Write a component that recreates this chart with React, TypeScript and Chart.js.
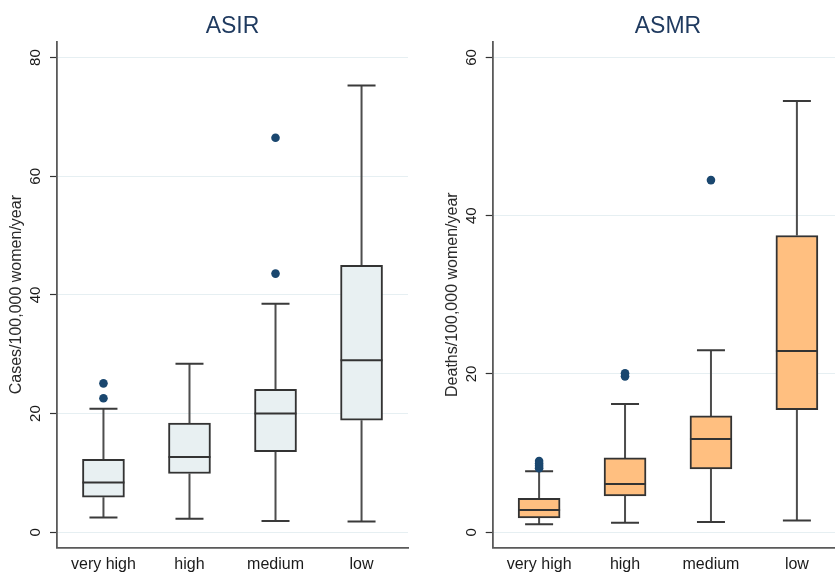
import React, { useEffect, useRef } from 'react';
import { Chart, registerables } from 'chart.js';

Chart.register(...registerables);

// ---------- data ----------
const categories = ['very high', 'high', 'medium', 'low'];
const categoryPositions = [1, 2, 3, 4];

const asirMin = [2.5, 2.3, 1.9, 1.8];
const asirQ1 = [5.9, 9.9, 13.6, 18.9];
const asirMedian = [8.4, 12.7, 20.0, 29.0];
const asirQ3 = [12.3, 18.4, 24.1, 45.0];
const asirMax = [20.8, 28.4, 38.5, 75.3];
const asirOutliers = [[25.1, 22.6], [], [43.6, 66.5], []];
const asirTicks = [0, 20, 40, 60, 80];

const asmrMin = [1.0, 1.2, 1.3, 1.5];
const asmrQ1 = [1.8, 4.6, 8.0, 15.5];
const asmrMedian = [2.8, 6.1, 11.8, 22.9];
const asmrQ3 = [4.3, 9.4, 14.7, 37.5];
const asmrMax = [7.7, 16.2, 23.0, 54.5];
const asmrOutliers = [[8.1, 8.4, 8.7, 9.0], [19.7, 20.1], [44.5], []];
const asmrTicks = [0, 20, 40, 60];

// ---------- styling ----------
const FONT = '"Liberation Sans", Arial, Helvetica, sans-serif';
const BOX_WIDTH = 42;
const CAP_HALF = 14;

interface PanelProps {
  title: string;
  yTitle: string;
  min: number[];
  q1: number[];
  median: number[];
  q3: number[];
  max: number[];
  outliers: number[][];
  ticks: number[];
  yMin: number;
  yMax: number;
  fill: string;
  width: number;
  height: number;
  left: number;
  axisWidth: number;
  padRight: number;
  yTitlePad: number;
}

function Panel(p: PanelProps) {
  const ref = useRef<HTMLCanvasElement | null>(null);
  useEffect(() => {
    if (!ref.current) return;
    const whiskerPlugin = {
      id: 'whiskers',
      beforeDatasetsDraw(chart: any) {
        const { ctx, scales } = chart;
        const xs = scales.x, ys = scales.y;
        ctx.save();
        ctx.lineWidth = 2;
        p.min.forEach((_, i) => {
          const cx = xs.getPixelForValue(categoryPositions[i]);
          const yLo = ys.getPixelForValue(p.min[i]);
          const yQ1 = ys.getPixelForValue(p.q1[i]);
          const yQ3 = ys.getPixelForValue(p.q3[i]);
          const yHi = ys.getPixelForValue(p.max[i]);
          ctx.strokeStyle = '#4d4d4d';
          ctx.beginPath();
          ctx.moveTo(cx, yLo); ctx.lineTo(cx, yQ1);
          ctx.moveTo(cx, yQ3); ctx.lineTo(cx, yHi);
          ctx.stroke();
          ctx.strokeStyle = '#3a3a3a';
          ctx.beginPath();
          ctx.moveTo(cx - CAP_HALF, yLo); ctx.lineTo(cx + CAP_HALF, yLo);
          ctx.moveTo(cx - CAP_HALF, yHi); ctx.lineTo(cx + CAP_HALF, yHi);
          ctx.stroke();
        });
        ctx.restore();
      },
      afterDatasetsDraw(chart: any) {
        const { ctx, scales } = chart;
        const xs = scales.x, ys = scales.y;
        ctx.save();
        ctx.strokeStyle = '#333';
        ctx.lineWidth = 2;
        p.median.forEach((m, i) => {
          const cx = xs.getPixelForValue(categoryPositions[i]);
          const ym = ys.getPixelForValue(m);
          ctx.beginPath();
          ctx.moveTo(cx - BOX_WIDTH / 2, ym);
          ctx.lineTo(cx + BOX_WIDTH / 2, ym);
          ctx.stroke();
        });
        ctx.restore();
      },
    };

    const boxData = categoryPositions.map((x, i) => ({ x, y: [p.q1[i], p.q3[i]] }));
    const outlierData: { x: number; y: number }[] = [];
    p.outliers.forEach((arr, i) => arr.forEach((v) => outlierData.push({ x: categoryPositions[i], y: v })));

    const chart = new Chart(ref.current, {
      type: 'bar',
      data: {
        datasets: [
          {
            type: 'bar',
            data: boxData as any,
            backgroundColor: p.fill,
            borderColor: '#333',
            borderWidth: 2,
            borderSkipped: false,
            barThickness: BOX_WIDTH,
            order: 2,
          } as any,
          {
            type: 'scatter',
            data: outlierData as any,
            backgroundColor: '#1a476f',
            borderWidth: 0,
            pointRadius: 4.3,
            order: 1,
          } as any,
        ],
      },
      options: {
        animation: false,
        responsive: false,
        layout: { padding: { left: 0, right: p.padRight, top: 0, bottom: 0 } },
        plugins: {
          legend: { display: false },
          tooltip: { enabled: false },
          title: {
            display: true,
            fullSize: false,
            text: p.title,
            color: '#1f3a5f',
            font: { family: FONT, size: 23, weight: 'normal' as any },
            padding: { top: 13, bottom: 1 },
          },
        },
        scales: {
          x: {
            type: 'linear',
            offset: false,
            min: 0.46,
            max: 4.54,
            afterBuildTicks: (axis: any) => {
              axis.ticks = categoryPositions.map((v) => ({ value: v }));
            },
            afterFit: (scale: any) => {
              scale.height = 24.3;
            },
            grid: { display: false, drawTicks: false, offset: false },
            border: { display: true, color: '#5a5a5a', width: 1.8 },
            ticks: {
              padding: 7,
              color: '#1a1a1a',
              font: { family: FONT, size: 16 },
              callback: (v: any) => categories[categoryPositions.indexOf(Number(v))] ?? '',
            },
          },
          y: {
            type: 'linear',
            min: p.yMin,
            max: p.yMax,
            afterBuildTicks: (axis: any) => {
              axis.ticks = p.ticks.map((v) => ({ value: v }));
            },
            afterFit: (scale: any) => {
              scale.width = p.axisWidth;
            },
            grid: {
              color: '#e6eff2',
              lineWidth: 1,
              tickLength: 7,
              tickColor: '#333',
              tickWidth: 1.2,
            },
            border: { display: true, color: '#5a5a5a', width: 1.8 },
            ticks: {
              minRotation: 90,
              maxRotation: 90,
              crossAlign: 'center',
              padding: 5.7,
              color: '#1a1a1a',
              font: { family: FONT, size: 15 },
            },
            title: {
              display: true,
              text: p.yTitle,
              color: '#2a2a2a',
              font: { family: FONT, size: 16 },
              padding: { top: p.yTitlePad, bottom: 0 },
            },
          },
        },
      } as any,
      plugins: [whiskerPlugin],
    });
    return () => chart.destroy();
  }, []);

  return (
    <canvas
      ref={ref}
      width={p.width}
      height={p.height}
      style={{ position: 'absolute', left: p.left, top: 0, width: p.width, height: p.height }}
    />
  );
}

export default function App() {
  return (
    <div
      style={{
        position: 'absolute',
        left: 0,
        top: 0,
        width: 835,
        height: 572,
        overflow: 'hidden',
        background: '#ffffff',
      }}
    >
      <Panel
        title="ASIR"
        yTitle="Cases/100,000 women/year"
        min={asirMin}
        q1={asirQ1}
        median={asirMedian}
        q3={asirQ3}
        max={asirMax}
        outliers={asirOutliers}
        ticks={asirTicks}
        yMin={-2.6}
        yMax={82.7}
        fill="#e8f0f2"
        width={415}
        height={572}
        left={0}
        axisWidth={57}
        padRight={7}
        yTitlePad={7.4}
      />
      <Panel
        title="ASMR"
        yTitle="Deaths/100,000 women/year"
        min={asmrMin}
        q1={asmrQ1}
        median={asmrMedian}
        q3={asmrQ3}
        max={asmrMax}
        outliers={asmrOutliers}
        ticks={asmrTicks}
        yMin={-1.95}
        yMax={62.0}
        fill="#ffbf80"
        width={435}
        height={572}
        left={415}
        axisWidth={77.7}
        padRight={6.7}
        yTitlePad={28.4}
      />
    </div>
  );
}
